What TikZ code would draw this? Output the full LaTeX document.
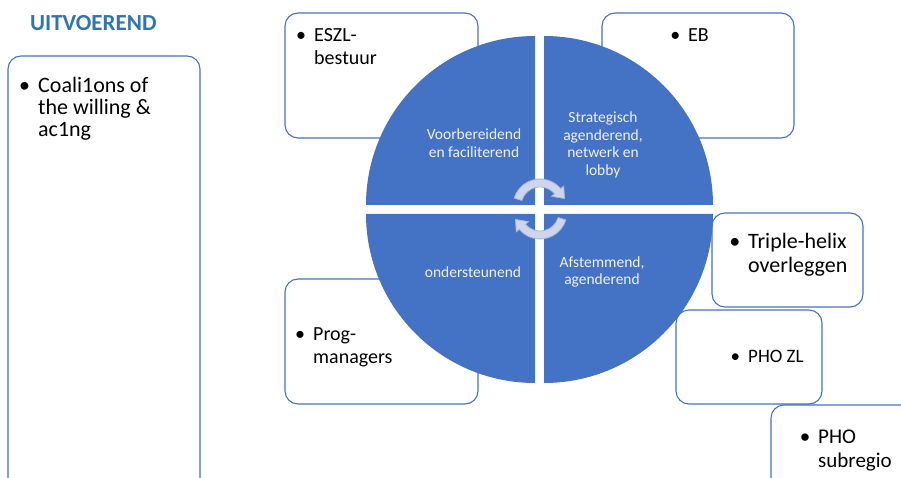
\documentclass[tikz,border=0pt]{standalone}
\usepackage{fontspec}
\setmainfont{Carlito}
\definecolor{qblue}{HTML}{4472C4}
\definecolor{titelblauw}{HTML}{2E75B6}
\definecolor{qtext}{HTML}{EEF1F8}
\definecolor{pijlvul}{HTML}{CFD6EC}
\definecolor{pijlrand}{HTML}{A7B5DA}
\newcommand{\bolletje}{\llap{\textbullet\hspace{8pt}}}
\begin{document}
\begin{tikzpicture}[x=1pt, y=1pt, yscale=-1,
  rolbox/.style={draw=qblue, line width=1.1pt, rounded corners=13pt, fill=white, inner sep=0pt},
  kwart/.style={fill=qblue},
  kwarttxt/.style={text=qtext, align=center, anchor=base, inner sep=0pt, font=\fontsize{15.5}{17.5}\selectfont},
  bultxt/.style={align=left, anchor=base west, inner sep=0pt, font=\fontsize{20}{23}\selectfont},
  pijl/.style={fill=pijlvul, draw=pijlrand, line width=0.8pt}]
\useasboundingbox (0,0) rectangle (901,478);
\clip (0,0) rectangle (901,478);
% boxes
\node[rolbox, minimum width=192pt, minimum height=474pt] (coal) at (104,293){};
\node[rolbox, minimum width=193pt, minimum height=125pt] (eszl) at (381.5,75.5){};
\node[rolbox, minimum width=192pt, minimum height=125pt] (eb) at (698,75.5){};
\node[rolbox, minimum width=151pt, minimum height=94pt] (triple) at (787.5,260){};
\node[rolbox, minimum width=146pt, minimum height=94pt] (phozl) at (749,357){};
\node[rolbox, minimum width=169pt, minimum height=125pt] (phosub) at (855.5,467.5){};
\node[rolbox, minimum width=193pt, minimum height=125pt] (prog) at (381.5,341.5){};
% circle in four parts
\fill[kwart] (535,205) -- (366,205) arc[start angle=180, end angle=270, radius=169] -- cycle;
\fill[kwart] (544,205) -- (544,36) arc[start angle=270, end angle=360, radius=169] -- cycle;
\fill[kwart] (544,214) -- (713,214) arc[start angle=0, end angle=90, radius=169] -- cycle;
\fill[kwart] (535,214) -- (535,383) arc[start angle=90, end angle=180, radius=169] -- cycle;
% circular arrows
\begin{scope}[shift={(540,206)}]
\draw[pijl] (197:27) arc[start angle=197, end angle=320, radius=27] -- (320:31)
  -- (24.5,-7.5) -- (320:15) -- (320:19) arc[start angle=320, end angle=197, radius=19] -- cycle;
\end{scope}
\begin{scope}[shift={(540,212)}, rotate=180]
\draw[pijl] (197:27) arc[start angle=197, end angle=320, radius=27] -- (320:31)
  -- (24.5,-7.5) -- (320:15) -- (320:19) arc[start angle=320, end angle=197, radius=19] -- cycle;
\end{scope}
% quadrant texts (base = last line)
\node[kwarttxt, font=\fontsize{15.5}{18}\selectfont] (voorb) at (474,158) {Voorbereidend\\en faciliterend};
\node[kwarttxt] (strat) at (603,175.5) {Strategisch\\agenderend,\\netwerk en\\lobby};
\node[kwarttxt] (onder) at (473,277) {ondersteunend};
\node[kwarttxt, font=\fontsize{15.5}{17}\selectfont] (afst) at (602,284) {Afstemmend,\\agenderend};
% title and box texts
\node[anchor=base west, inner sep=0pt, text=titelblauw, font=\fontsize{23}{26}\selectfont\bfseries] (titel) at (30,31) {UITVOEREND};
\node[bultxt, font=\fontsize{22}{22}\selectfont] (coaltxt) at (38,137) {\bolletje Coali1ons of\\the willing \&\\ac1ng};
\node[bultxt] (eszltxt) at (314,65) {\bolletje ESZL-\\bestuur};
\node[bultxt] (ebtxt) at (688,42) {\bolletje EB};
\node[bultxt, font=\fontsize{22}{24}\selectfont] (tripletxt) at (748,272) {\bolletje Triple-helix\\overleggen};
\node[bultxt, font=\fontsize{19}{22}\selectfont] (phozltxt) at (748,362) {\bolletje PHO ZL};
\node[bultxt, font=\fontsize{21}{24}\selectfont] (phosubtxt) at (818,467) {\bolletje PHO\\subregio};
\node[bultxt] (progtxt) at (313,363) {\bolletje Prog-\\managers};
\end{tikzpicture}
\end{document}
